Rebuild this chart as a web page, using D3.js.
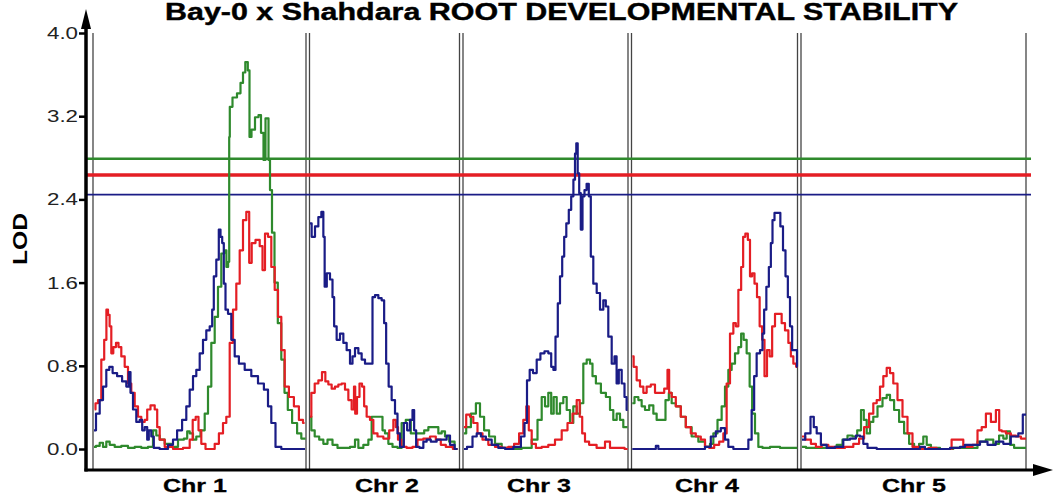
<!DOCTYPE html>
<html>
<head>
<meta charset="utf-8">
<script src="https://cdn.jsdelivr.net/npm/d3@7"></script>
<style>
  body { margin: 0; background: #fff; }
  svg { display: block; font-family: 'Liberation Sans', Arial, sans-serif; }
</style>
</head>
<body>
<svg id="chart" width="1054" height="496"></svg>
<script>
// Chromosomes (lengths in cM) and LOD ticks.
const chrNames = ['Chr 1', 'Chr 2', 'Chr 3', 'Chr 4', 'Chr 5'];
const chrLengths = [106.5, 75, 82.5, 83, 112.5];
const chrGap = 1.75;
const lodTicks = [0, 0.8, 1.6, 2.4, 3.2, 4.0];

// Significance thresholds, one per trait.
const thresholdNames = ['green', 'red', 'blue'];
const thresholdValues = [2.79, 2.635, 2.445];

// LOD profiles: one list of [cM, LOD] per chromosome.
const blueLod = [
  [[0.5,0.18],[2.5,0.34],[4.2,0.47],[5.8,0.6],[7.5,0.76],[8.8,0.79],[10.8,0.73],[13.3,0.7],[15.8,0.65],[17.5,0.6],[18.3,0.74],[19.2,0.54],[20.8,0.38],[22.5,0.26],[24.2,0.28],[25,0.18],[26.7,0.21],[27.5,0.09],[28.3,0.18],[30,0.12],[30.8,0.01],[35.8,0],[39.2,0.04],[40.8,0.09],[43.3,0.18],[45.8,0.28],[47.5,0.41],[49.2,0.57],[50.8,0.7],[52.5,0.76],[54.2,0.92],[55.8,1.05],[57.5,1.14],[59.2,1.18],[60,1.34],[60.8,1.66],[62.5,1.82],[63.3,2.11],[64.2,2.04],[65,1.98],[65.8,1.59],[66.7,1.34],[68.3,1.3],[70,1.05],[71.7,0.89],[74.2,0.82],[77.5,0.76],[80.8,0.7],[84.2,0.63],[86.7,0.57],[88.3,0.41],[90,0.25],[92.5,0.02],[95.8,0],[106,0]],
  [[0.25,2.17],[1.9,2.04],[3.6,2.14],[5.25,2.23],[6.6,2.28],[7.25,2.04],[7.9,1.56],[9.4,1.69],[11.1,1.63],[11.9,1.46],[12.75,1.18],[14.4,1.05],[16.1,1.11],[17.75,1.02],[19.4,0.95],[21.1,0.82],[21.9,0.89],[23.6,0.97],[25.25,0.92],[26.9,0.86],[28.6,0.82],[31.1,0.82],[31.9,1.46],[33.6,1.48],[35.25,1.45],[36.9,1.43],[37.75,1.21],[38.9,0.82],[40.25,0.6],[41.9,0.47],[43.6,0.34],[44.4,0.15],[46.1,0.02],[48.25,0.25],[49.4,0.18],[51.1,0.28],[51.9,0.375],[52.75,0.18],[53.9,0.02],[56.1,0.01],[57.75,0.07],[59.4,0.09],[61.9,0.07],[65.25,0.09],[67.75,0.09],[69.4,0.13],[71.1,0.04],[74,0]],
  [[0.5,0],[3.5,0.02],[6,0.12],[7.7,0.15],[10.2,0.12],[12.7,0.09],[16,0.04],[19.3,0.01],[22.7,0],[27.7,0.02],[30.2,0.12],[31.3,0.25],[32.7,0.66],[34,0.76],[36,0.73],[37.7,0.86],[39.7,0.92],[41.8,0.94],[43.5,0.92],[44.7,0.79],[45.7,0.76],[46.8,1.08],[48,1.4],[49,1.66],[50.2,1.85],[51,2.04],[52.3,2.17],[53.5,2.3],[54.7,2.43],[55.7,2.59],[56.3,2.84],[57,2.94],[57.7,2.65],[58.5,2.46],[59.3,2.11],[60.2,2.43],[61.3,2.49],[62.3,2.55],[63.5,2.43],[64.3,1.85],[66,1.59],[67.7,1.5],[69.3,1.34],[71,1.43],[71.8,1.37],[73.5,1.08],[75.2,0.82],[76.3,0.89],[77.3,0.63],[78.5,0.76],[80.2,0.63],[81.3,0.5],[82.3,0.375]],
  [[0.4,0],[6.75,0],[11.75,0],[12.6,0.03],[14.25,0],[21.75,0],[35.1,0],[38.4,0.02],[40.9,0.12],[43.4,0.17],[45.9,0.2],[47.6,0.09],[49.25,0.02],[52.6,0],[57.6,0],[59.25,0.09],[60.9,0.375],[61.75,0.7],[63.4,0.92],[65.1,0.95],[65.9,1.11],[66.75,1.34],[68.1,1.56],[69.25,1.75],[70.1,1.98],[70.9,2.2],[72.1,2.27],[73.75,2.27],[75.1,2.14],[76.4,1.91],[77.6,1.66],[78.75,1.46],[79.75,1.18],[80.9,0.95],[82.6,0.95],[82.9,0.79]],
  [[0.5,0.09],[3.7,0.15],[5.8,0.31],[7,0.21],[8.7,0.15],[11.2,0.04],[14.5,0.01],[19.5,0.02],[22.8,0.09],[26.2,0.1],[28.7,0.13],[30.3,0.12],[32,0.05],[34.5,0.01],[41.2,0],[49.5,0],[57.8,0],[61.2,0.02],[62.8,0],[71.2,0],[77.8,0.01],[81.2,0.02],[82.8,0.04],[87.8,0.04],[91.2,0.07],[95.3,0.04],[99.5,0.07],[102.8,0.05],[107,0.12],[110.3,0.15],[111.5,0.33],[112.5,0.33]]
];

const redLod = [
  [[0.8,0.38],[1.7,0.44],[3.3,0.47],[5,0.86],[6.2,1.05],[7.2,1.34],[7.8,1.29],[8.8,1.18],[9.5,0.92],[10.8,0.98],[12.2,1.02],[13.3,0.98],[15,0.89],[16.7,0.79],[18.3,0.63],[20,0.54],[21.7,0.41],[23.3,0.31],[25,0.26],[26.7,0.28],[27.5,0.38],[30,0.42],[31.7,0.38],[32.5,0.21],[34.2,0.09],[37.5,0.02],[42.5,0],[47.5,0.01],[49.2,0.09],[50.5,0.28],[52.2,0.31],[53.3,0.18],[55,0.05],[57.5,0],[60,0],[61.7,0.05],[64.2,0.15],[65.8,0.25],[67.5,0.31],[69.2,1.02],[70.8,1.34],[72.5,1.59],[74.2,1.91],[75.8,2.2],[77.5,2.28],[78.7,1.79],[80,1.98],[82.5,2.01],[84.2,1.95],[85.3,1.72],[86.7,2.07],[88.3,2.04],[90,1.75],[91.7,1.53],[93.3,1.27],[95,0.95],[96.7,0.6],[99.2,0.5],[101.7,0.41],[104.2,0.28],[105.8,0.25]],
  [[0.25,0.31],[1.6,0.54],[3.6,0.63],[5.25,0.66],[7.25,0.74],[8.6,0.65],[10.25,0.62],[11.9,0.58],[13.6,0.6],[15.25,0.62],[16.9,0.63],[18.6,0.57],[20.25,0.47],[21.9,0.38],[22.6,0.6],[23.1,0.34],[24.4,0.5],[25.6,0.63],[26.9,0.6],[27.75,0.41],[29.4,0.31],[31.1,0.28],[32.75,0.15],[35.25,0.12],[38.6,0.1],[41.1,0.18],[42.75,0.28],[43.6,0.21],[44.9,0.09],[46.9,0.02],[50.25,0.01],[52.75,0.02],[55.25,0.09],[58.6,0.1],[61.9,0.12],[64.4,0.09],[66.9,0.04],[69.4,0.02],[74,0]],
  [[0.5,0.21],[2.7,0.33],[4.3,0.31],[6,0.25],[8.5,0.15],[11,0.09],[14.3,0.04],[17.7,0.02],[21,0.01],[24.3,0.02],[26.8,0.05],[29.3,0.15],[31,0.28],[32.3,0.41],[33.5,0.18],[35.2,0.05],[37.7,0.01],[41,0.02],[44.3,0.04],[47.7,0.09],[51,0.18],[53.5,0.25],[56,0.34],[57.7,0.47],[59,0.31],[60.2,0.15],[61.8,0.07],[64.3,0.04],[69.3,0.01],[72.7,0.07],[74.3,0.01],[79.3,0.01],[82.3,0]],
  [[0.4,0.89],[1.75,0.79],[3.4,0.66],[5.1,0.6],[6.75,0.54],[8.4,0.6],[10.9,0.62],[12.6,0.54],[15.1,0.54],[17.6,0.58],[18.4,0.76],[19.25,0.54],[20.9,0.5],[23.4,0.41],[25.9,0.31],[28.4,0.21],[30.9,0.15],[33.4,0.12],[35.9,0.09],[37.6,0.02],[40.1,0.01],[42.6,0.04],[45.1,0.07],[46.75,0.15],[48.4,0.63],[50.1,1.11],[51.75,1.21],[52.6,1.18],[54.25,1.53],[55.4,1.75],[56.25,2.04],[57.6,2.07],[58.75,2.01],[59.75,1.66],[60.9,1.69],[62.1,1.59],[63.4,1.46],[64.75,1.18],[65.9,1.05],[67.1,0.7],[68.4,0.95],[69.75,0.89],[70.9,1.18],[72.6,1.3],[74.25,1.3],[75.9,1.21],[77.6,1.14],[79.25,1.02],[80.1,0.89],[81.75,0.82],[82.9,0.79]],
  [[0.5,0.12],[3.7,0.09],[6.2,0.05],[8.7,0.02],[12,0.04],[15.3,0.02],[19.5,0.01],[24.5,0.02],[27.8,0.05],[30.3,0.1],[32.8,0.21],[35.3,0.34],[37,0.44],[38.7,0.47],[40.3,0.6],[42,0.7],[43.7,0.78],[45.3,0.73],[47,0.63],[49.5,0.47],[52,0.31],[54.5,0.15],[57,0.02],[61.2,0],[66.2,0.01],[69.5,0],[72.8,0],[77.8,0.09],[80.3,0.09],[82,0.02],[84.5,0.02],[87,0.04],[89.5,0.18],[91.2,0.21],[93.7,0.34],[96.2,0.26],[98.7,0.375],[99.5,0.18],[101.2,0.17],[103.7,0.15],[106.2,0.13],[108.7,0.12],[111.2,0.1],[112.5,0.1]]
];

const greenLod = [
  [[0.5,0.02],[2.5,0.03],[4.2,0.06],[5.8,0.02],[7.5,0.07],[9.2,0.04],[12.5,0.02],[15.8,0.03],[19.2,0.01],[22.5,0.02],[25.8,0.01],[29.2,0.02],[30.8,0.18],[32.5,0.13],[34.2,0.09],[37.5,0.05],[40.8,0.02],[44.2,0.09],[46.7,0.1],[47.5,0.17],[49.2,0.15],[50.8,0.09],[52.5,0.12],[55,0.18],[56.7,0.34],[58.3,0.6],[60,1.02],[61.7,1.27],[63.3,1.56],[65,1.88],[66.2,1.91],[67.2,1.75],[67.9,1.8],[68.3,3.0],[68.5,3.29],[71,3.38],[73,3.42],[74.5,3.52],[75.5,3.62],[76.8,3.72],[78,3.64],[78.5,3.0],[80,3.07],[82,3.19],[83.5,3.21],[84.5,3.04],[86,2.78],[86.5,3.18],[87.5,3.18],[88,2.78],[89,2.49],[90,2.08],[91.5,1.6],[93.3,1.21],[95,0.86],[96.5,0.54],[98.3,0.375],[100.8,0.25],[103.3,0.15],[105,0.1],[106.3,0.1]],
  [[0.25,0.31],[1.6,0.18],[3.6,0.12],[6.1,0.09],[7.75,0.05],[10.25,0.09],[12.75,0.04],[15.25,0.01],[18.6,0.01],[21.9,0.02],[23.6,0.09],[25.25,0.01],[28.6,0.04],[30.25,0.09],[31.9,0.31],[36.1,0.31],[36.9,0.18],[38.6,0.15],[40.25,0.05],[42.75,0.02],[45.25,0.01],[46.9,0.25],[49.4,0.28],[51.9,0.15],[54.4,0.15],[56.1,0.15],[58.6,0.18],[60.25,0.21],[63.6,0.21],[65.25,0.15],[66.9,0.17],[68.6,0.12],[71.1,0.07],[74,0]],
  [[0.5,0.15],[2.7,0.21],[5.2,0.34],[7.7,0.44],[9.3,0.31],[11.8,0.18],[14.3,0.12],[17.7,0.05],[21,0.01],[26,0],[32.7,0.01],[36,0.09],[38.5,0.28],[40.2,0.5],[41.8,0.41],[43.5,0.54],[44.7,0.34],[46,0.5],[47.7,0.34],[49.3,0.44],[51,0.5],[52.7,0.375],[54.3,0.25],[56,0.41],[57.7,0.34],[59.3,0.44],[61,0.82],[62.7,0.86],[64.3,0.82],[65.2,0.7],[67.7,0.63],[70.2,0.54],[72.7,0.5],[74.3,0.375],[76,0.28],[77.7,0.34],[79.3,0.28],[81,0.21],[82.3,0.21]],
  [[0.4,0.44],[2.6,0.5],[4.25,0.47],[5.9,0.41],[7.6,0.375],[10.1,0.42],[11.75,0.34],[13.4,0.28],[15.9,0.28],[18.1,0.47],[19.25,0.54],[20.9,0.44],[23.4,0.41],[25.9,0.31],[28.4,0.21],[31.75,0.12],[35.1,0.07],[38.4,0.02],[40.1,0.05],[41.75,0.15],[44.25,0.28],[45.9,0.41],[47.6,0.6],[49.25,0.76],[50.9,0.82],[52.6,0.92],[54.25,0.98],[55.4,1.11],[56.75,1.05],[58.4,0.92],[59.75,0.6],[60.9,0.34],[62.6,0.15],[64.25,0.02],[66.75,0.01],[71.75,0.02],[76.75,0.01],[82.9,0.01]],
  [[0.5,0.02],[4.5,0.01],[9.5,0.01],[16.2,0.01],[19.5,0.04],[22,0.09],[24.5,0.13],[27,0.12],[29.2,0.18],[30.8,0.375],[32,0.28],[33.7,0.15],[35.3,0.26],[37,0.31],[39.5,0.41],[42,0.49],[43.7,0.52],[45.3,0.47],[47.8,0.375],[50.3,0.26],[52.8,0.15],[55.3,0.05],[57.8,0.01],[60.3,0.05],[62,0.12],[63.7,0.04],[66.2,0.01],[72.8,0],[79.5,0.01],[86.2,0.01],[90.3,0.07],[94.5,0.09],[97.8,0.05],[100.3,0.13],[102,0.1],[103.7,0.17],[105.3,0.04],[107.8,0.01],[112.5,0.01]]
];

const colors = { blue: '#1a1c86', red: '#e41e24', green: '#2f8a2d' };
const chrLabelNudge = [-4.5, 2.5, -6.5, -7.5, 0.5];

const svg = d3.select('#chart');

// Chromosome start offsets along the genome axis.
const chrOffsets = [];
let acc = 0;
chrLengths.forEach((len, i) => {
  chrOffsets.push(acc);
  acc += len + (i < chrLengths.length - 1 ? chrGap : 0);
});

const x = d3.scaleLinear().domain([0, acc]).range([93, 1026]);
const y = d3.scaleLinear().domain([0, 4]).range([449, 33]);

// Title
svg.append('text')
  .attr('x', 165).attr('y', 20)
  .attr('font-size', 23).attr('font-weight', 'bold')
  .attr('stroke', '#000').attr('stroke-width', 0.4)
  .attr('textLength', 793).attr('lengthAdjust', 'spacingAndGlyphs')
  .text('Bay-0 x Shahdara ROOT DEVELOPMENTAL STABILITY');

// Chromosome borders
const gChr = svg.append('g');
chrLengths.forEach((len, i) => {
  [chrOffsets[i], chrOffsets[i] + len].forEach((v) => {
    gChr.append('line')
      .attr('x1', x(v)).attr('x2', x(v))
      .attr('y1', y(4)).attr('y2', 470)
      .attr('stroke', '#444').attr('stroke-width', 1.3);
  });
  svg.append('text')
    .attr('x', x(chrOffsets[i] + len / 2) + chrLabelNudge[i])
    .attr('y', 492)
    .attr('font-size', 19).attr('font-weight', 'bold')
    .attr('stroke', '#000').attr('stroke-width', 0.3)
    .attr('text-anchor', 'middle')
    .attr('textLength', 64).attr('lengthAdjust', 'spacingAndGlyphs')
    .text(chrNames[i]);
});

// Thresholds
const thrWidth = { green: 2.5, red: 3.5, blue: 1.8 };
thresholdNames.forEach((name, i) => {
  svg.append('line')
    .attr('x1', 86).attr('x2', 1031)
    .attr('y1', y(thresholdValues[i])).attr('y2', y(thresholdValues[i]))
    .attr('stroke', colors[name]).attr('stroke-width', thrWidth[name]);
});

// LOD curves, one path per chromosome (stepped like the marker scan)
const line = d3.line()
  .x((d) => x(d[0]))
  .y((d) => y(d[1]))
  .curve(d3.curveStep);
[['green', greenLod], ['red', redLod], ['blue', blueLod]].forEach(([name, series]) => {
  const g = svg.append('g').attr('fill', 'none').attr('stroke', colors[name])
    .attr('stroke-width', 2.2).attr('stroke-linejoin', 'round');
  series.forEach((pts, i) => {
    g.append('path').attr('d', line(pts.map((p) => [chrOffsets[i] + p[0], p[1]])));
  });
});

// Y axis
const yAxis = d3.axisLeft(y).tickValues(lodTicks).tickFormat(d3.format('.1f'))
  .tickSize(7).tickPadding(1);
const gY = svg.append('g').attr('transform', 'translate(86,0)').call(yAxis);
gY.select('.domain').remove();
gY.selectAll('.tick line').attr('stroke', '#000').attr('stroke-width', 2.5);
gY.selectAll('.tick text')
  .attr('font-size', 17).attr('fill', '#222')
  .attr('font-family', "'Liberation Sans', Arial, sans-serif")
  .attr('textLength', 31).attr('lengthAdjust', 'spacingAndGlyphs');

// Axis lines with arrow heads
svg.append('line').attr('x1', 86).attr('x2', 86).attr('y1', 20).attr('y2', 471.5)
  .attr('stroke', '#000').attr('stroke-width', 3.5);
svg.append('line').attr('x1', 84.5).attr('x2', 1040).attr('y1', 470).attr('y2', 470)
  .attr('stroke', '#000').attr('stroke-width', 3);
svg.append('path').attr('d', 'M86,9 L91,29 L81,29 Z').attr('fill', '#000');
svg.append('path').attr('d', 'M1053,470 L1033,464 L1033,476 Z').attr('fill', '#000');

// Y label
svg.append('text')
  .attr('transform', 'translate(27,239) rotate(-90)')
  .attr('text-anchor', 'middle')
  .attr('font-size', 20).attr('font-weight', 'bold')
  .attr('textLength', 52).attr('lengthAdjust', 'spacingAndGlyphs')
  .text('LOD');
</script>
</body>
</html>
